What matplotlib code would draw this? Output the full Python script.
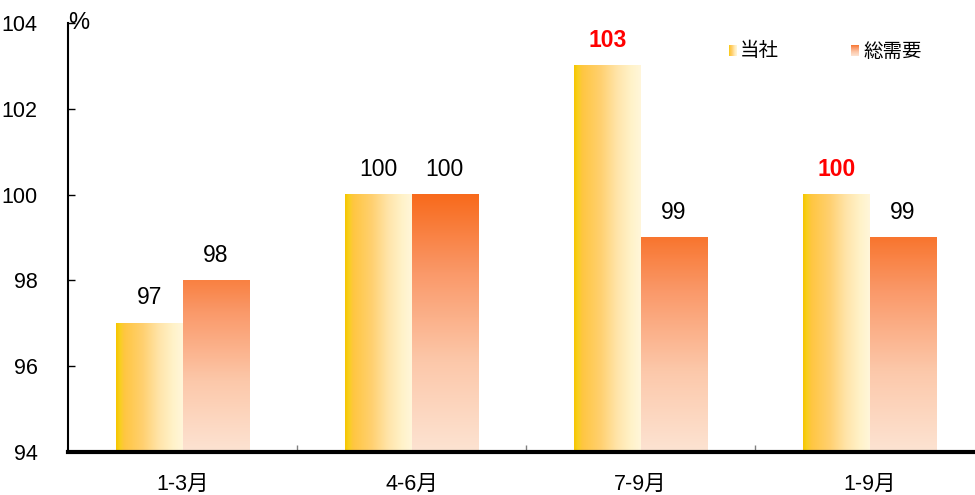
import numpy as np
import matplotlib
matplotlib.use("Agg")
import matplotlib.pyplot as plt
from matplotlib.colors import LinearSegmentedColormap
from matplotlib import font_manager

categories = ["1-3月", "4-6月", "7-9月", "1-9月"]
own_values = [97, 100, 103, 100]
market_values = [98, 100, 99, 99]
own_label_red = [False, False, True, True]
series_names = ["当社", "総需要"]

names = {f.name for f in font_manager.fontManager.ttflist}
narrow = "Liberation Sans Narrow" if "Liberation Sans Narrow" in names else "Liberation Sans"
FONT = [narrow, "Noto Sans CJK JP", "DejaVu Sans"]
plt.rcParams["font.family"] = FONT

yellow_cmap = LinearSegmentedColormap.from_list(
    "own", [(0.0, "#F6C400"), (0.06, "#F8D020"), (0.12, "#FFC640"),
            (0.4, "#FFD070"), (0.65, "#FFE5AA"), (0.85, "#FFF2C8"), (1.0, "#FFF6DA")])
orange_cmap = LinearSegmentedColormap.from_list(
    "market", [(0.0, "#FDE3D2"), (0.35, "#FCC8AA"), (0.7, "#FA9868"), (1.0, "#F86A1C")])

fig = plt.figure(figsize=(9.75, 4.95), dpi=100)
ax = fig.add_axes([68 / 975, 43 / 495, 907 / 975, 429 / 495])

ymin, ymax = 94, 104
x = np.arange(len(categories))
w = 0.29

bars_own = ax.bar(x - w / 2, np.array(own_values) - ymin, w, bottom=ymin,
                  color="none", edgecolor="none")
bars_mkt = ax.bar(x + w / 2, np.array(market_values) - ymin, w, bottom=ymin,
                  color="none", edgecolor="none")

hgrad = np.linspace(0, 1, 256).reshape(1, -1)
for b in bars_own:
    x0, y0, bw, bh = b.get_x(), b.get_y(), b.get_width(), b.get_height()
    ax.imshow(hgrad, cmap=yellow_cmap, extent=(x0, x0 + bw, y0, y0 + bh),
              aspect="auto", interpolation="bilinear", zorder=2)
for b in bars_mkt:
    x0, y0, bw, bh = b.get_x(), b.get_y(), b.get_width(), b.get_height()
    top = 0.55 + 0.45 * min(bh / 6.0, 1.0)
    vgrad = np.linspace(0, top, 256).reshape(-1, 1)
    ax.imshow(vgrad, cmap=orange_cmap, extent=(x0, x0 + bw, y0, y0 + bh),
              aspect="auto", origin="lower", interpolation="bilinear", zorder=2,
              vmin=0, vmax=1)

for b, v, red in zip(bars_own, own_values, own_label_red):
    ax.annotate(f"{v}", (b.get_x() + b.get_width() / 2, v), xytext=(0, 10),
                textcoords="offset points", ha="center", va="bottom",
                fontsize=16.5, color="#FF0000" if red else "black",
                fontweight="bold" if red else "normal")
for b, v in zip(bars_mkt, market_values):
    ax.annotate(f"{v}", (b.get_x() + b.get_width() / 2, v), xytext=(0, 10),
                textcoords="offset points", ha="center", va="bottom",
                fontsize=16.5, color="black")

ax.set_xlim(-0.5, 3.46)
ax.set_ylim(ymin, ymax)
ax.set_yticks(np.arange(94, 105, 2))
ax.tick_params(axis="y", direction="in", length=5, width=1, labelsize=15.5, pad=22)
ax.set_xticks(x)
ax.set_xticklabels(categories, fontsize=15.5)
ax.set_xticks(x[:-1] + 0.5, minor=True)
ax.tick_params(axis="x", which="major", length=0, pad=16)
ax.tick_params(axis="x", which="minor", direction="in", length=5, width=1, color="#808080")

for s in ["top", "right"]:
    ax.spines[s].set_visible(False)
ax.spines["left"].set_linewidth(1.5)
ax.spines["bottom"].set_linewidth(3)
ax.spines["left"].set_zorder(5)
ax.spines["bottom"].set_zorder(5)

ax.text(0.0, 1.0, "%", transform=ax.transAxes, fontsize=17, ha="left", va="center")

# legend swatches with gradient fill
def swatch(px, cmap, data):
    sax = fig.add_axes([px / 975, (495 - 56) / 495, 8 / 975, 11 / 495])
    sax.imshow(data, cmap=cmap, aspect="auto", interpolation="bilinear",
               origin="lower", vmin=0, vmax=1)
    sax.axis("off")

swatch(729, yellow_cmap, hgrad)
swatch(851, orange_cmap, np.linspace(0, 1, 64).reshape(-1, 1))
fig.text(740 / 975, 1 - 51 / 495, series_names[0], fontsize=14, va="center", ha="left",
         family=["Noto Sans CJK JP", "DejaVu Sans"])
fig.text(863 / 975, 1 - 51 / 495, series_names[1], fontsize=14, va="center", ha="left",
         family=["Noto Sans CJK JP", "DejaVu Sans"])

fig.savefig("out.png", dpi=100)
